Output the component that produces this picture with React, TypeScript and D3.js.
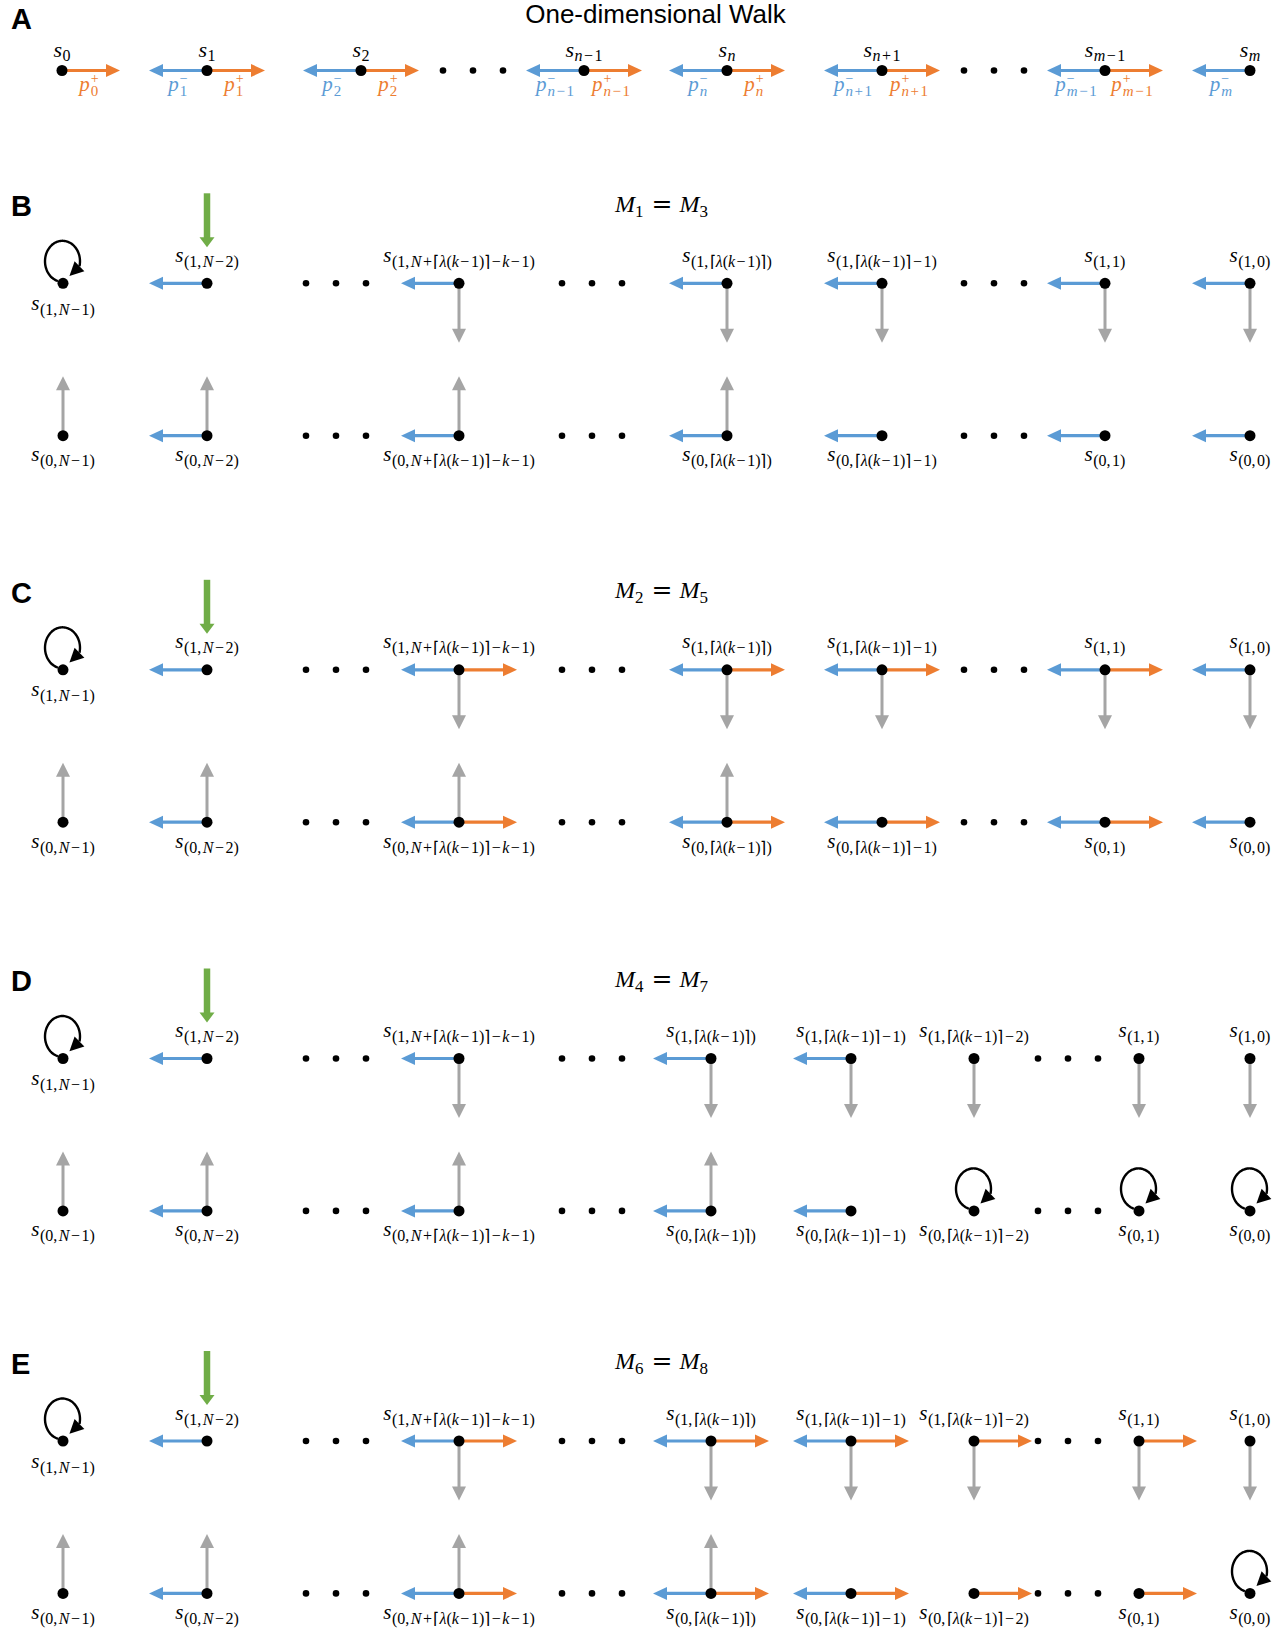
import React from "react";
import * as d3 from "d3";

// ---------- palette & fonts ----------
const BLUE = "#5B9BD5";
const ORANGE = "#ED7D31";
const GRAY = "#A5A5A5";
const GREEN = "#70AD47";
const SERIF = "'Liberation Serif', 'Times New Roman', serif";
const SANS = "'Liberation Sans', Arial, sans-serif";

// ---------- A: one-dimensional walk ----------
const walkStates = ["0", "1", "2", "n−1", "n", "n+1", "m−1", "m"];
// L = step down (p⁻), R = step up (p⁺)
const walkMoves = ["R", "LR", "LR", "LR", "LR", "LR", "LR", "L"];

// ---------- B–E: two-row chains ----------
const narrowCols = ["N−1", "N−2", "N+⌈λ(k−1)⌉−k−1", "⌈λ(k−1)⌉", "⌈λ(k−1)⌉−1", "1", "0"];
const wideCols = ["N−1", "N−2", "N+⌈λ(k−1)⌉−k−1", "⌈λ(k−1)⌉", "⌈λ(k−1)⌉−1", "⌈λ(k−1)⌉−2", "1", "0"];

const panelLetters = ["B", "C", "D", "E"];
const panelModels = [["1", "3"], ["2", "5"], ["4", "7"], ["6", "8"]];
const panelWide = [false, false, true, true];
// per state: L = blue left, R = orange right, V = grey vertical, O = self loop
const panelTop = [
  ["O", "L", "LV", "LV", "LV", "LV", "LV"],
  ["O", "L", "LRV", "LRV", "LRV", "LRV", "LV"],
  ["O", "L", "LV", "LV", "LV", "V", "V", "V"],
  ["O", "L", "LRV", "LRV", "LRV", "RV", "RV", "V"],
];
const panelBottom = [
  ["V", "LV", "LV", "LV", "L", "L", "L"],
  ["V", "LV", "LRV", "LRV", "LR", "LR", "L"],
  ["V", "LV", "LV", "LV", "L", "O", "O", "O"],
  ["V", "LV", "LRV", "LRV", "LR", "R", "R", "O"],
];
const entryColumn = 1; // state receiving the green start arrow

// ---------- layout ----------
const W = 1284;
const H = 1630;
const walkX = [62, 207, 361, 584, 727, 882, 1105, 1250];
const walkGapX = [473, 994];
const narrowX = [63, 207, 459, 727, 882, 1105, 1250];
const narrowGapX = [336, 592, 994];
const wideX = [63, 207, 459, 711, 851, 974, 1139, 1250];
const wideGapX = [336, 592, 1068];
const walkY = 70.5;
const panelTopY = [283.3, 669.8, 1058.5, 1441];
const rowGap = 152.4;

const H_LEN = 58; // horizontal arrow length
const V_LEN = 59.5; // vertical arrow length
const NODE_R = 5.5;
const DOT_R = 3.3;

const ITALIC = new Set(["N", "k", "λ", "n", "m"]);

type Tok = { ch: string; it: boolean; dx: number };
function tokenize(sub: string, opGap: number, commaGap: number): Tok[] {
  const out: Tok[] = [];
  let pend = 0;
  for (const ch of Array.from(sub)) {
    const op = ch === "+" || ch === "−";
    out.push({ ch, it: ITALIC.has(ch), dx: pend + (op ? opGap : 0) });
    pend = op ? opGap : ch === "," ? commaGap : 0;
  }
  return out;
}

function SubSpans({ sub, size, dy, opGap, commaGap, lead = 0 }: { sub: string; size: number; dy: number; opGap: number; commaGap: number; lead?: number }) {
  const toks = tokenize(sub, opGap, commaGap);
  return (
    <>
      {toks.map((t, i) => {
        const dx = (i === 0 ? lead : 0) + t.dx;
        return (
          <tspan
            key={i}
            fontSize={size}
            fontStyle={t.it ? "italic" : "normal"}
            dy={i === 0 ? dy : undefined}
            dx={dx ? dx : undefined}
          >
            {t.ch}
          </tspan>
        );
      })}
    </>
  );
}

function SLabel({ x, y, sub, size, subSize, subDy }: { x: number; y: number; sub: string; size: number; subSize: number; subDy: number }) {
  return (
    <text x={x} y={y} textAnchor="middle" fontFamily={SERIF} fill="#000">
      <tspan fontStyle="italic" fontSize={size}>s</tspan>
      <SubSpans sub={sub} size={subSize} dy={subDy} opGap={1.5} commaGap={1.5} lead={0.5} />
    </text>
  );
}

// rough advance widths (em) for the serif face, used to centre p-labels
const EM: Record<string, number> = { n: 0.5, m: 0.722, "−": 0.564, "+": 0.564 };
function subWidth(sub: string, size: number, opGap: number) {
  let w = 0;
  for (const ch of Array.from(sub)) {
    w += (EM[ch] ?? 0.5) * size;
    if (ch === "−" || ch === "+") w += 2 * opGap;
  }
  return w;
}

function PLabel({ cx, y, sign, sub, color }: { cx: number; y: number; sign: string; sub: string; color: string }) {
  const pSize = 21;
  const subSize = 15;
  const pW = 0.5 * pSize + 1;
  const sw = Math.max(subWidth(sub, subSize, 1.5), 0.564 * 14);
  const x0 = cx - (pW + sw) / 2;
  return (
    <g fill={color} fontFamily={SERIF}>
      <text x={x0} y={y} fontStyle="italic" fontSize={pSize}>p</text>
      <text x={x0 + pW} y={y - 8} fontSize={14}>{sign}</text>
      <text x={x0 + pW} y={y}>
        <SubSpans sub={sub} size={subSize} dy={5} opGap={1.5} commaGap={1.5} />
      </text>
    </g>
  );
}

function Arrow({ x1, y1, x2, y2, color, width, headLen, headHalf }: { x1: number; y1: number; x2: number; y2: number; color: string; width: number; headLen: number; headHalf: number }) {
  const len = Math.hypot(x2 - x1, y2 - y1);
  const ux = (x2 - x1) / len;
  const uy = (y2 - y1) / len;
  const bx = x2 - ux * headLen;
  const by = y2 - uy * headLen;
  const px = -uy;
  const py = ux;
  const shaft = d3.path();
  shaft.moveTo(x1, y1);
  shaft.lineTo(bx + ux, by + uy);
  const head = d3.path();
  head.moveTo(x2, y2);
  head.lineTo(bx + px * headHalf, by + py * headHalf);
  head.lineTo(bx - px * headHalf, by - py * headHalf);
  head.closePath();
  return (
    <g>
      <path d={shaft.toString()} stroke={color} strokeWidth={width} fill="none" />
      <path d={head.toString()} fill={color} />
    </g>
  );
}

function Loop({ x, y }: { x: number; y: number }) {
  const cx = x - 0.5;
  const cy = y - 22;
  const rx = 17.5;
  const ry = 20.5;
  const a0 = (105 * Math.PI) / 180;
  const a1 = ((360 + 14) * Math.PI) / 180;
  const pts: [number, number][] = d3.range(0, 81).map((i) => {
    const a = a0 + ((a1 - a0) * i) / 80;
    return [cx + rx * Math.cos(a), cy + ry * Math.sin(a)];
  });
  const line = d3.line().curve(d3.curveBasis);
  const [bx, by] = pts[pts.length - 1];
  const dir = [-0.72, 0.7];
  const n = Math.hypot(dir[0], dir[1]);
  const ux = dir[0] / n;
  const uy = dir[1] / n;
  const hl = 14;
  const hh = 7;
  const tx = bx + ux * hl;
  const ty = by + uy * hl;
  const head = d3.path();
  head.moveTo(tx, ty);
  head.lineTo(bx - uy * hh, by + ux * hh);
  head.lineTo(bx + uy * hh, by - ux * hh);
  head.closePath();
  return (
    <g>
      <path d={line(pts) ?? ""} stroke="#000" strokeWidth={2.4} fill="none" />
      <path d={head.toString()} fill="#000" />
    </g>
  );
}

function Ellipsis({ cx, y }: { cx: number; y: number }) {
  return (
    <g>
      {[-1, 0, 1].map((k) => (
        <circle key={k} cx={cx + k * 30} cy={y} r={DOT_R} fill="#000" />
      ))}
    </g>
  );
}

function horiz(x: number, y: number, moves: string, key: string) {
  const out: React.ReactNode[] = [];
  if (moves.includes("L"))
    out.push(<Arrow key={key + "L"} x1={x} y1={y} x2={x - H_LEN} y2={y} color={BLUE} width={3.2} headLen={14} headHalf={6.5} />);
  if (moves.includes("R"))
    out.push(<Arrow key={key + "R"} x1={x} y1={y} x2={x + H_LEN} y2={y} color={ORANGE} width={3.2} headLen={14} headHalf={6.5} />);
  return out;
}

function WalkPanel() {
  const x = d3.scaleOrdinal<number, number>().domain(d3.range(walkStates.length)).range(walkX);
  const y = walkY;
  return (
    <g>
      <text x={11} y={29} fontFamily={SANS} fontWeight="bold" fontSize={29}>A</text>
      <text x={655.5} y={23} textAnchor="middle" fontFamily={SANS} fontSize={26}>One-dimensional Walk</text>
      {walkGapX.map((gx, i) => (
        <Ellipsis key={i} cx={gx} y={y} />
      ))}
      {walkStates.map((s, i) => {
        const xi = x(i);
        const mv = walkMoves[i];
        return (
          <g key={i}>
            {horiz(xi, y, mv, "w" + i)}
            <circle cx={xi} cy={y} r={NODE_R} fill="#000" />
            <SLabel x={xi} y={y - 14} sub={s} size={22} subSize={16} subDy={4} />
            {mv.includes("L") && <PLabel cx={xi - H_LEN / 2} y={y + 20.5} sign="−" sub={s} color={BLUE} />}
            {mv.includes("R") && <PLabel cx={xi + H_LEN / 2 - 2} y={y + 20.5} sign="+" sub={s} color={ORANGE} />}
          </g>
        );
      })}
    </g>
  );
}

function ChainPanel({ idx }: { idx: number }) {
  const wide = panelWide[idx];
  const cols = wide ? wideCols : narrowCols;
  const xs = wide ? wideX : narrowX;
  const gaps = wide ? wideGapX : narrowGapX;
  const x = d3.scaleOrdinal<number, number>().domain(d3.range(cols.length)).range(xs);
  const yTop = panelTopY[idx];
  const yBot = yTop + rowGap;
  const [ma, mb] = panelModels[idx];
  return (
    <g>
      <text x={11} y={yTop - 67.3} fontFamily={SANS} fontWeight="bold" fontSize={29}>{panelLetters[idx]}</text>
      <text x={661.5} y={yTop - 71.6} textAnchor="middle" fontFamily={SERIF} fontSize={24}>
        <tspan fontStyle="italic">M</tspan>
        <tspan fontSize={17} dy={5}>{ma}</tspan>
        <tspan dy={-5} dx={8} fontFamily="'DejaVu Serif', serif" fontSize={25}>=</tspan>
        <tspan dx={7} fontStyle="italic">M</tspan>
        <tspan fontSize={17} dy={5}>{mb}</tspan>
      </text>
      <Arrow x1={x(entryColumn)} y1={yTop - 90} x2={x(entryColumn)} y2={yTop - 36} color={GREEN} width={6.5} headLen={10} headHalf={7.5} />
      {gaps.map((gx, i) => (
        <g key={i}>
          <Ellipsis cx={gx} y={yTop} />
          <Ellipsis cx={gx} y={yBot} />
        </g>
      ))}
      {cols.map((c, i) => {
        const xi = x(i);
        const mt = panelTop[idx][i];
        const mbm = panelBottom[idx][i];
        return (
          <g key={i}>
            {mt.includes("V") && <Arrow x1={xi} y1={yTop} x2={xi} y2={yTop + V_LEN} color={GRAY} width={3} headLen={14} headHalf={7} />}
            {mbm.includes("V") && <Arrow x1={xi} y1={yBot} x2={xi} y2={yBot - V_LEN} color={GRAY} width={3} headLen={14} headHalf={7} />}
            {horiz(xi, yTop, mt, "t" + i)}
            {horiz(xi, yBot, mbm, "b" + i)}
            {mt.includes("O") && <Loop x={xi} y={yTop} />}
            {mbm.includes("O") && <Loop x={xi} y={yBot} />}
            <circle cx={xi} cy={yTop} r={NODE_R} fill="#000" />
            <circle cx={xi} cy={yBot} r={NODE_R} fill="#000" />
            <SLabel x={xi} y={mt.includes("O") ? yTop + 26.5 : yTop - 21.5} sub={"(1," + c + ")"} size={21} subSize={16} subDy={5} />
            <SLabel x={xi} y={yBot + 25.5} sub={"(0," + c + ")"} size={21} subSize={16} subDy={5} />
          </g>
        );
      })}
    </g>
  );
}

export default function App() {
  return (
    <svg width={W} height={H} viewBox={`0 0 ${W} ${H}`} style={{ position: "absolute", left: 0, top: 0, display: "block" }}>
      <rect x={0} y={0} width={W} height={H} fill="#fff" />
      <WalkPanel />
      {panelLetters.map((_, i) => (
        <ChainPanel key={i} idx={i} />
      ))}
    </svg>
  );
}
